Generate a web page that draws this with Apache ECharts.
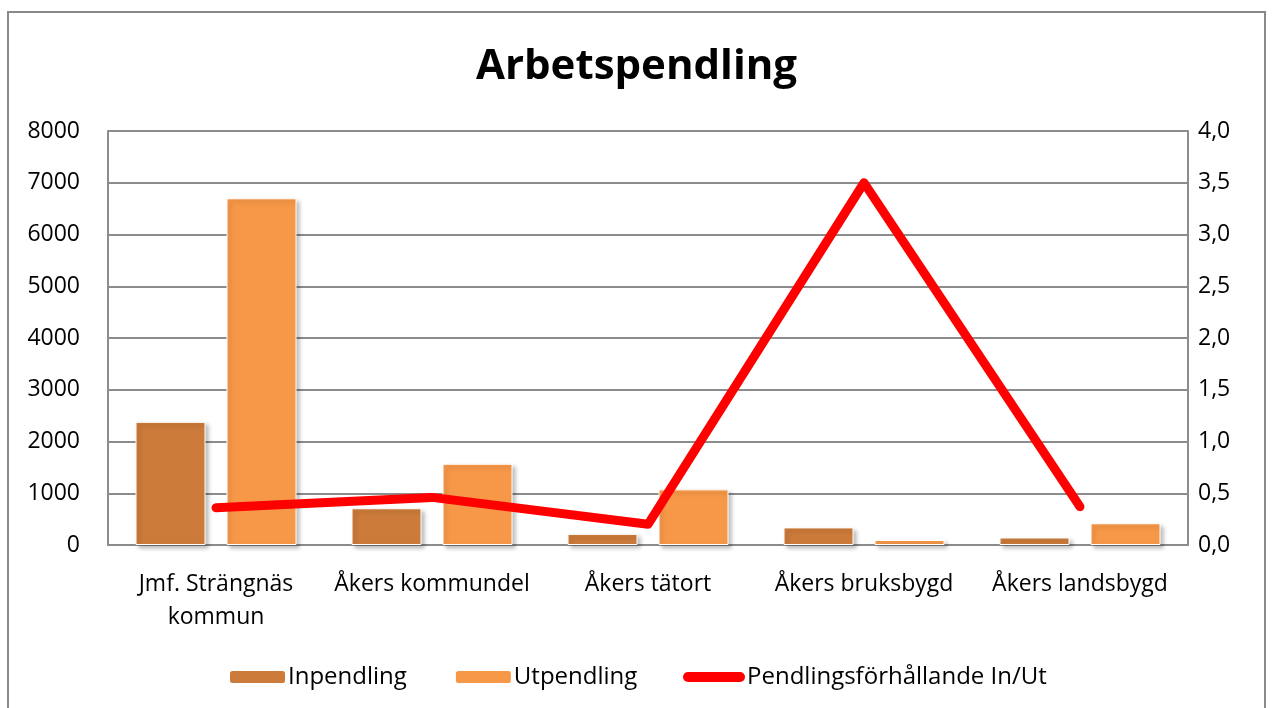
<!DOCTYPE html>
<html>
<head>
<meta charset="utf-8">
<script src="https://cdn.jsdelivr.net/npm/echarts@6/dist/echarts.min.js"></script>
<style>
  html, body { margin: 0; padding: 0; background: #fff; }
  #chart { width: 1273px; height: 708px; }
</style>
</head>
<body>
<div id="chart"></div>
<script>
// data
const categories = ['Jmf. Strängnäs\nkommun', 'Åkers kommundel', 'Åkers tätort', 'Åkers bruksbygd', 'Åkers landsbygd'];
const inpendling = [2380, 710, 215, 340, 145];
const utpendling = [6700, 1570, 1075, 97, 420];
const ratio = [0.36, 0.46, 0.20, 3.5, 0.37];

const font = '"Open Sans", Lato, sans-serif';
const gridColor = '#8c8c8c';

const chart = echarts.init(document.getElementById('chart'));
const option = {
    backgroundColor: '#fff',
    animation: false,
    textStyle: { fontFamily: font, color: '#000' },
    title: {
        text: 'Arbetspendling',
        left: 'center',
        top: 41,
        textStyle: { fontFamily: font, fontSize: 42, fontWeight: 'bold', color: '#000' }
    },
    graphic: [{
        type: 'rect',
        shape: { x: 8, y: 12, width: 1257, height: 710 },
        style: { fill: 'none', stroke: '#898989', lineWidth: 2 },
        silent: true
    }],
    legend: [{
        left: 228,
        top: 665,
        padding: 0,
        itemWidth: 57,
        itemHeight: 14,
        itemGap: 47,
        textStyle: { fontFamily: font, fontSize: 24, color: '#000', padding: [0, 0, 0, -3] },
        data: ['Inpendling', 'Utpendling']
    }, {
        left: 683,
        top: 665,
        padding: 0,
        itemWidth: 62,
        itemHeight: 10,
        textStyle: { fontFamily: font, fontSize: 24, color: '#000', padding: [0, 0, 0, -3] },
        data: [{ name: 'Pendlingsförhållande In/Ut', icon: 'path://M5,0H57A5,5,0,0,1,57,10H5A5,5,0,0,1,5,0Z' }]
    }],
    grid: { left: 108, right: 85, top: 131, bottom: 163 },
    xAxis: {
        type: 'category',
        data: categories,
        axisLine: { lineStyle: { color: gridColor, width: 2 } },
        axisTick: { show: false },
        axisLabel: { fontSize: 23, color: '#000', margin: 23, lineHeight: 33, interval: 0 }
    },
    yAxis: [{
        type: 'value',
        min: 0, max: 8000, interval: 1000,
        axisLine: { show: true, lineStyle: { color: gridColor, width: 2 } },
        axisTick: { show: false },
        axisLabel: { fontSize: 23, color: '#000', margin: 28, formatter: (v) => String(v) },
        splitLine: { lineStyle: { color: gridColor, width: 2 } }
    }, {
        type: 'value',
        min: 0, max: 4, interval: 0.5,
        position: 'right',
        axisLine: { show: true, lineStyle: { color: gridColor, width: 2 } },
        axisTick: { show: false },
        splitLine: { show: false },
        axisLabel: {
            fontSize: 23, color: '#000', margin: 10,
            formatter: (v) => v.toFixed(1).replace('.', ',')
        }
    }],
    series: [{
        name: 'Inpendling',
        type: 'bar',
        data: inpendling,
        barWidth: 70,
        barGap: '30%',
        itemStyle: {
            color: '#cc7b3a', borderColor: '#fff', borderWidth: 1,
            shadowBlur: 4, shadowOffsetX: 3, shadowOffsetY: 3, shadowColor: 'rgba(0,0,0,0.25)'
        }
    }, {
        name: 'Utpendling',
        type: 'bar',
        data: utpendling,
        barWidth: 70,
        barGap: '30%',
        itemStyle: {
            color: '#f79848', borderColor: '#fff', borderWidth: 1,
            shadowBlur: 4, shadowOffsetX: 3, shadowOffsetY: 3, shadowColor: 'rgba(0,0,0,0.25)'
        }
    }, {
        name: 'Pendlingsförhållande In/Ut',
        type: 'line',
        yAxisIndex: 1,
        data: ratio,
        symbol: 'none',
        itemStyle: { color: '#ff0000' },
        lineStyle: { color: '#ff0000', width: 9, cap: 'round', join: 'round' }
    }]
};
chart.setOption(option);
</script>
</body>
</html>
